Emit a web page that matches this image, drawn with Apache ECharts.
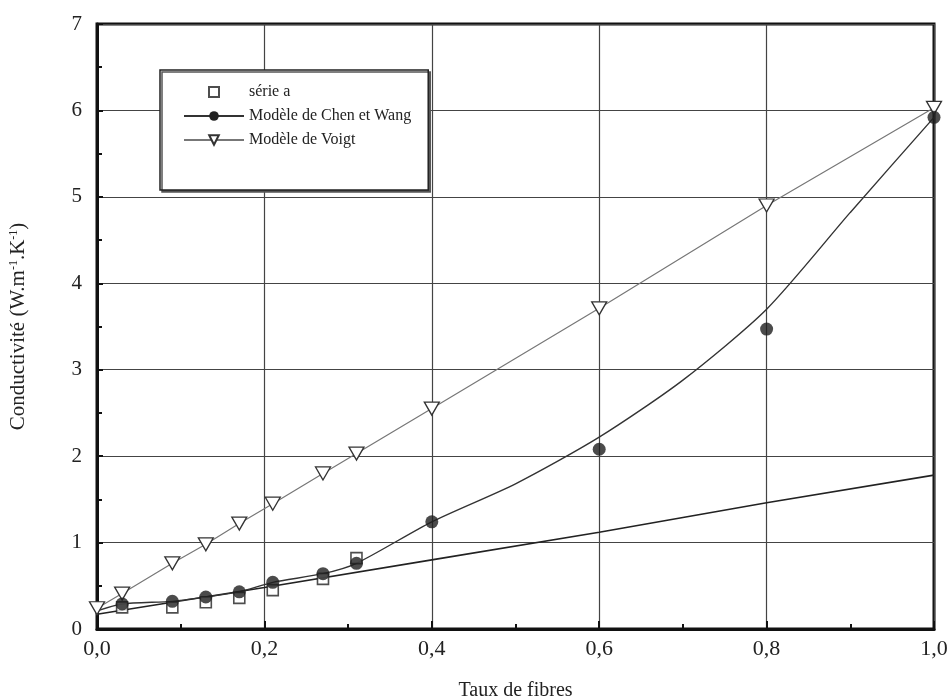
<!DOCTYPE html>
<html>
<head>
<meta charset="utf-8">
<script src="https://cdn.jsdelivr.net/npm/echarts@6/dist/echarts.min.js"></script>
<style>html,body{margin:0;padding:0;background:#fff}#c{width:949px;height:700px}</style>
</head>
<body>
<div id="c"></div>
<script>
// ---- data ----
const serieAX = [0.03, 0.09, 0.13, 0.17, 0.21, 0.27, 0.31];
const serieAY = [0.25, 0.25, 0.31, 0.36, 0.45, 0.58, 0.82];

const chenDotX = [0.03, 0.09, 0.13, 0.17, 0.21, 0.27, 0.31, 0.4, 0.6, 0.8, 1.0];
const chenDotY = [0.29, 0.32, 0.37, 0.43, 0.54, 0.64, 0.76, 1.24, 2.08, 3.47, 5.92];

const chenCurveX = [0, 0.03, 0.09, 0.13, 0.17, 0.21, 0.27, 0.31, 0.4, 0.5, 0.6, 0.7, 0.8, 0.9, 1.0];
const chenCurveY = [0.21, 0.29, 0.32, 0.37, 0.43, 0.54, 0.64, 0.76, 1.24, 1.68, 2.22, 2.88, 3.7, 4.82, 5.92];

const voigtX = [0, 0.03, 0.09, 0.13, 0.17, 0.21, 0.27, 0.31, 0.4, 0.6, 0.8, 1.0];
const voigtY = [0.24, 0.41, 0.76, 0.98, 1.22, 1.45, 1.8, 2.03, 2.55, 3.71, 4.9, 6.03];

const lowerX = [0, 0.2, 0.4, 0.6, 0.8, 1.0];
const lowerY = [0.17, 0.48, 0.8, 1.12, 1.46, 1.78];

const legendNames = ['série a', 'Modèle de Chen et Wang', 'Modèle de Voigt'];
const xTitle = 'Taux de fibres';

const pairs = (xs, ys) => xs.map((x, i) => [x, ys[i]]);
const FONT = '"Liberation Serif", "Times New Roman", serif';

const chart = echarts.init(document.getElementById('c'), null, {renderer: 'canvas'});
chart.setOption({
  animation: false,
  backgroundColor: '#fff',
  grid: {left: 97, right: 15, top: 24, bottom: 71, show: true, borderColor: '#111', borderWidth: 3,
    containLabel: false, outerBoundsMode: 'none'},
  legend: {
    data: [
      {name: legendNames[0], icon: 'path://M0,0M60,12M25,1h10v10h-10z'},
      {name: legendNames[1]},
      {name: legendNames[2]}
    ],
    orient: 'vertical',
    left: 160, top: 70,
    padding: [14, 17, 42, 23],
    itemGap: 8,
    itemWidth: 60, itemHeight: 12,
    backgroundColor: '#fff',
    borderColor: '#222', borderWidth: 1.5,
    shadowColor: '#555', shadowOffsetX: 2, shadowOffsetY: 2, shadowBlur: 0,
    textStyle: {fontFamily: FONT, fontSize: 16, color: '#222'},
    selectedMode: false
  },
  xAxis: {
    type: 'value', min: 0, max: 1, interval: 0.2,
    name: xTitle, nameLocation: 'middle', nameGap: 52,
    nameTextStyle: {fontFamily: FONT, fontSize: 20, color: '#222'},
    axisLine: {show: true, lineStyle: {color: '#111', width: 3}},
    axisTick: {show: true, inside: true, length: 8, lineStyle: {color: '#111', width: 2}},
    minorTick: {show: true, splitNumber: 2, length: 5, lineStyle: {color: '#111', width: 2}},
    axisLabel: {fontFamily: FONT, fontSize: 22, color: '#222', margin: 9,
      formatter: v => v.toFixed(1).replace('.', ',')},
    splitLine: {show: true, lineStyle: {color: '#444', width: 1.2}}
  },
  yAxis: {
    type: 'value', min: 0, max: 7, interval: 1,
    name: 'Conductivité (W.m{s|-1}.K{s|-1})', nameLocation: 'middle', nameGap: 68,
    nameTextStyle: {fontFamily: FONT, fontSize: 21, color: '#222',
      rich: {s: {fontFamily: FONT, fontSize: 12, color: '#222', verticalAlign: 'top', padding: [0, 0, 9, 0]}}},
    axisLine: {show: true, lineStyle: {color: '#111', width: 3}},
    axisTick: {show: true, inside: true, length: 6, lineStyle: {color: '#111', width: 2}},
    minorTick: {show: true, splitNumber: 2, length: 5, lineStyle: {color: '#111', width: 2}},
    axisLabel: {fontFamily: FONT, fontSize: 21, color: '#222', margin: 15},
    splitLine: {show: true, lineStyle: {color: '#444', width: 1.2}}
  },
  series: [
    {
      name: 'extra', type: 'line', data: pairs(lowerX, lowerY),
      symbol: 'none', lineStyle: {color: '#222', width: 1.6}, z: 2, silent: true
    },
    {
      name: 'Modèle de Voigt', type: 'line', data: pairs(voigtX, voigtY),
      symbol: 'triangle', symbolRotate: 180, symbolSize: [15, 13],
      itemStyle: {color: '#fff', borderColor: '#333', borderWidth: 1.3},
      lineStyle: {color: '#777', width: 1.2}, z: 3
    },
    {
      name: 'Modèle de Chen et Wang', type: 'line', data: pairs(chenCurveX, chenCurveY),
      symbol: 'circle', symbolSize: 12, showSymbol: false, smooth: 0.25,
      itemStyle: {color: '#222'},
      lineStyle: {color: '#333', width: 1.4}, z: 3
    },
    {
      name: 'Modèle de Chen et Wang', type: 'scatter', data: pairs(chenDotX, chenDotY),
      symbol: 'circle', symbolSize: 13,
      itemStyle: {color: '#1e1e1e'}, z: 5
    },
    {
      name: 'série a', type: 'scatter', data: pairs(serieAX, serieAY),
      symbol: 'rect', symbolSize: 11,
      itemStyle: {color: '#fff', borderColor: '#222', borderWidth: 1.6}, z: 4
    }
  ]
});
</script>
</body>
</html>
